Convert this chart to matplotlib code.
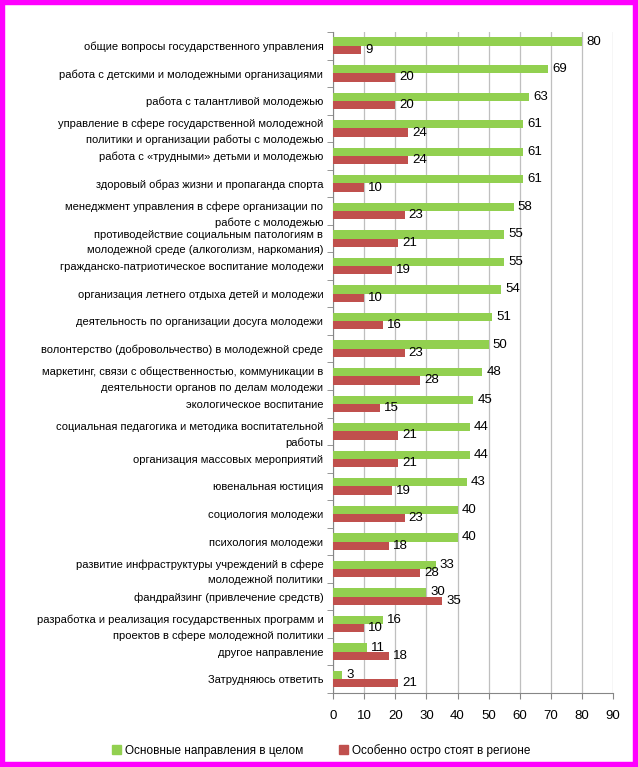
import numpy as np
import matplotlib
matplotlib.use("Agg")
import matplotlib.pyplot as plt
from matplotlib.patches import Rectangle, Patch

plt.rcParams['font.family'] = ['Liberation Sans', 'DejaVu Sans']

categories = [
    "общие вопросы государственного управления",
    "работа с детскими и молодежными организациями",
    "работа с талантливой молодежью",
    "управление в сфере государственной молодежной\nполитики и организации работы с молодежью",
    "работа с «трудными» детьми и молодежью",
    "здоровый образ жизни и пропаганда спорта",
    "менеджмент управления в сфере организации по\nработе с молодежью",
    "противодействие социальным патологиям в\nмолодежной среде (алкоголизм, наркомания)",
    "гражданско-патриотическое воспитание молодежи",
    "организация летнего отдыха детей и молодежи",
    "деятельность по организации досуга молодежи",
    "волонтерство (добровольчество) в молодежной среде",
    "маркетинг, связи с общественностью, коммуникации в\nдеятельности органов по делам молодежи",
    "экологическое воспитание",
    "социальная педагогика и методика воспитательной\nработы",
    "организация массовых мероприятий",
    "ювенальная юстиция",
    "социология молодежи",
    "психология молодежи",
    "развитие инфраструктуры учреждений в сфере\nмолодежной политики",
    "фандрайзинг (привлечение средств)",
    "разработка и реализация государственных программ и\nпроектов в сфере молодежной политики",
    "другое направление",
    "Затрудняюсь ответить",
]
general = [80, 69, 63, 61, 61, 61, 58, 55, 55, 54, 51, 50, 48, 45, 44, 44, 43, 40, 40, 33, 30, 16, 11, 3]
acute = [9, 20, 20, 24, 24, 10, 23, 21, 19, 10, 16, 23, 28, 15, 21, 21, 19, 23, 18, 28, 35, 10, 18, 21]

series_names = ["Основные направления в целом", "Особенно остро стоят в регионе"]
colors = ["#92D050", "#C0504D"]

fig = plt.figure(figsize=(6.38, 7.67), dpi=100)
ax = fig.add_axes([0.522, 0.0965, 0.439, 0.8618])

y = np.arange(len(categories))
h = 0.3
b1 = ax.barh(y - h / 2, general, height=h, color=colors[0], zorder=3)
b2 = ax.barh(y + h / 2, acute, height=h, color=colors[1], zorder=3)
ax.bar_label(b1, padding=3, fontsize=9.5)
ax.bar_label(b2, padding=3, fontsize=9.5)

ax.set_xlim(0, 90)
ax.set_xticks(np.arange(0, 91, 10))
ax.set_ylim(len(categories) - 0.5, -0.5)
ax.set_yticks(y)
ax.set_yticklabels(categories, fontsize=8, linespacing=1.65)
ax.set_yticks(np.arange(len(categories) + 1) - 0.5, minor=True)
ax.tick_params(axis='y', which='major', length=0, pad=7)
ax.tick_params(axis='y', which='minor', length=4, color='#868686')
ax.tick_params(axis='x', length=4, color='#868686', labelsize=9.5, pad=8)

ax.grid(axis='x', color='#BFBFBF', linewidth=0.9, zorder=0)
for s in ['top', 'right']:
    ax.spines[s].set_visible(False)
ax.spines['left'].set_color('#868686')
ax.spines['bottom'].set_color('#868686')

handles = [Patch(color=c, label=n) for c, n in zip(colors, series_names)]
fig.legend(handles=handles, loc='center', bbox_to_anchor=(0.503, 0.022), ncol=2,
           frameon=False, fontsize=8.5, handlelength=0.8, handleheight=0.8,
           handletextpad=0.3, columnspacing=3.0)

fig.patches.append(Rectangle((0, 0), 1, 1, transform=fig.transFigure, fill=False,
                             edgecolor='#FF00FF', linewidth=7.5, zorder=10))

fig.savefig("out.png", dpi=100)
